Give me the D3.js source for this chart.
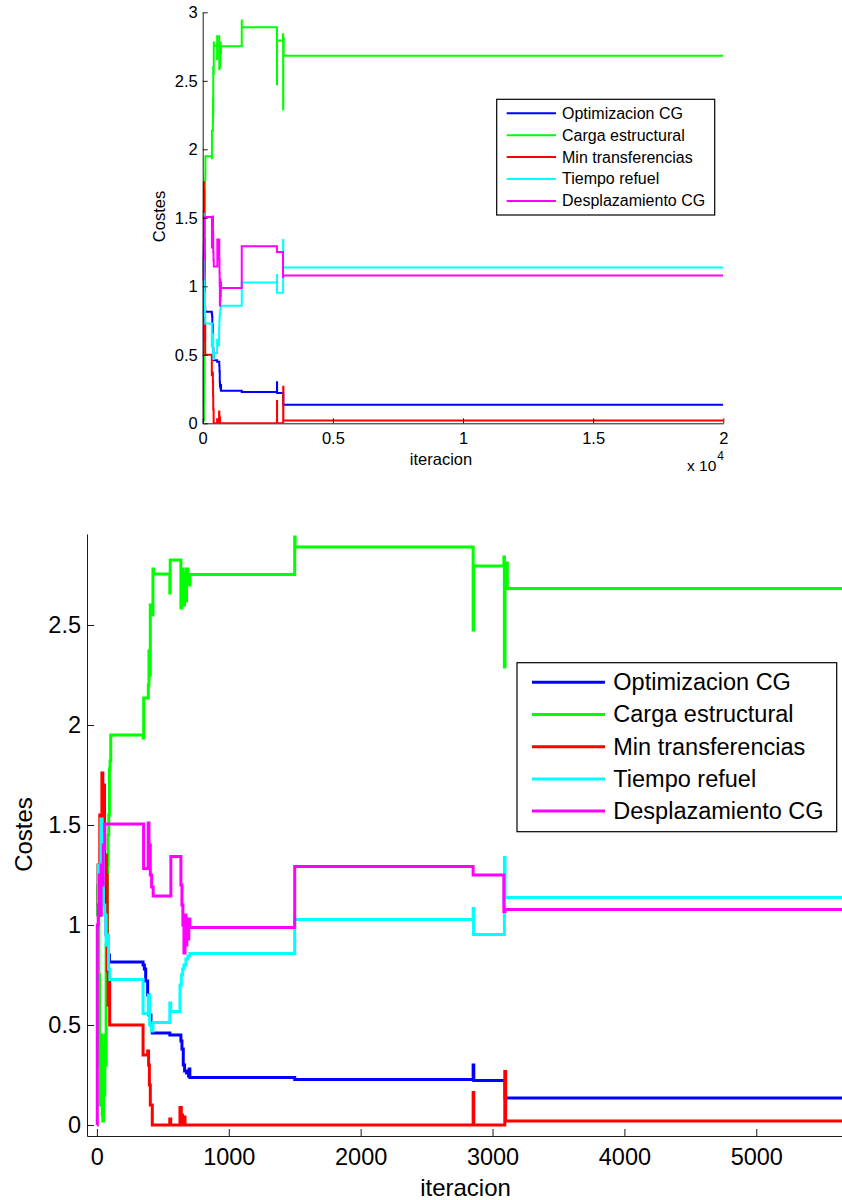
<!DOCTYPE html>
<html>
<head>
<meta charset="utf-8">
<script src="https://cdn.jsdelivr.net/npm/d3@7"></script>
<style>
  html, body { margin: 0; padding: 0; background: #ffffff; }
  svg { display: block; font-family: "Liberation Sans", Arial, Helvetica, sans-serif; }
</style>
</head>
<body>
<svg id="chart" width="842" height="1200"></svg>
<script>
// Cost of each objective along the optimisation run: [iteration, cost] breakpoints,
// each value held until the next breakpoint (stairs).
const optimizacionCG = [
  [0, 1.1], [10, 1.2], [20, 1.05], [30, 1.24], [40, 1.15], [50, 1.22], [60, 1.1],
  [70, 0.95], [80, 0.85], [95, 0.815], [350, 0.8], [360, 0.78], [370, 0.72], [385, 0.65],
  [395, 0.55], [410, 0.5], [420, 0.46], [553, 0.45], [637, 0.42], [645, 0.38], [655, 0.3],
  [665, 0.27], [680, 0.26], [695, 0.245], [700, 0.28], [705, 0.238], [1500, 0.228],
  [2853, 0.3], [2858, 0.222], [3095, 0.135], [20000, 0.135]
];
const cargaEstructural = [
  [0, 1.2], [5, 1.05], [10, 1.15], [15, 0.75], [20, 0.3], [25, 0.1], [30, 0.45], [35, 0.2],
  [40, 0.05], [45, 0.02], [50, 0.4], [55, 0.15], [60, 0.45], [65, 0.3], [70, 0.9], [75, 0.6],
  [80, 1.3], [85, 1.45], [90, 1.55], [95, 1.78], [100, 1.82], [105, 1.95], [350, 1.935],
  [355, 2.135], [390, 2.2], [395, 2.37], [400, 2.25], [405, 2.6], [415, 2.55], [425, 2.78],
  [430, 2.755], [553, 2.66], [556, 2.825], [637, 2.585], [645, 2.78], [655, 2.6], [665, 2.76],
  [672, 2.62], [680, 2.78], [690, 2.7], [705, 2.753], [1500, 2.94], [1503, 2.89],
  [2853, 2.475], [2856, 2.795], [3086, 2.84], [3090, 2.29], [3095, 2.81], [3112, 2.683],
  [20000, 2.683]
];
const minTransferencias = [
  [0, 1.1], [8, 1.3], [15, 1.05], [22, 1.55], [30, 1.35], [38, 1.76], [45, 1.5], [52, 1.7],
  [58, 1.2], [65, 1.35], [72, 1.25], [78, 0.77], [85, 0.6], [90, 0.72], [97, 0.5],
  [350, 0.35], [385, 0.37], [392, 0.3], [398, 0.2], [405, 0.1], [420, 0.0], [553, 0.03],
  [560, 0.0], [630, 0.087], [640, 0.05], [650, 0.0], [660, 0.04], [668, 0.0],
  [2853, 0.163], [2858, 0.0], [3093, 0.267], [3100, 0.02], [20000, 0.02]
];
const tiempoRefuel = [
  [0, 1.1], [10, 1.3], [20, 1.15], [30, 1.53], [40, 1.45], [50, 1.1], [60, 1.05], [70, 0.9],
  [80, 0.95], [88, 0.78], [98, 0.728], [350, 0.558], [390, 0.65], [400, 0.5], [415, 0.47],
  [425, 0.513], [553, 0.61], [560, 0.567], [630, 0.7], [640, 0.75], [650, 0.78], [660, 0.8],
  [675, 0.83], [690, 0.845], [705, 0.858], [1500, 1.028], [2853, 1.083], [2856, 0.953],
  [3090, 1.338], [3095, 1.138], [20000, 1.138]
];
const desplazamientoCG = [
  [0, 0], [3, 1.0], [10, 1.1], [18, 1.25], [25, 1.05], [32, 1.3], [40, 1.2], [48, 1.4],
  [55, 1.38], [60, 1.505], [354, 1.283], [389, 1.51], [395, 1.35], [400, 1.4], [405, 1.25],
  [415, 1.19], [427, 1.145], [561, 1.342], [637, 1.2], [645, 1.1], [652, 1.0], [660, 0.86],
  [668, 1.05], [675, 0.9], [682, 1.0], [690, 0.93], [697, 1.03], [705, 0.988],
  [1500, 1.292], [2853, 1.25], [3086, 1.067], [3095, 1.078], [20000, 1.078]
];

const seriesNames = ["Optimizacion CG", "Carga estructural", "Min transferencias", "Tiempo refuel", "Desplazamiento CG"];
const seriesValues = [optimizacionCG, cargaEstructural, minTransferencias, tiempoRefuel, desplazamientoCG];
const seriesColors = ["#0000ff", "#00ff00", "#ff0000", "#00ffff", "#ff00ff"];

// Tick values for the two views
const overviewXTicks = [0, 5000, 10000, 15000, 20000];
const overviewXTickLabels = ["0", "0.5", "1", "1.5", "2"];
const overviewYTicks = [0, 0.5, 1, 1.5, 2, 2.5, 3];
const detailXTicks = [0, 1000, 2000, 3000, 4000, 5000];
const detailYTicks = [0, 0.5, 1, 1.5, 2, 2.5];

const yAxisTitle = "Costes";
const xAxisTitle = "iteracion";

const svg = d3.select("#chart");
const FONT = '"Liberation Sans", Arial, Helvetica, sans-serif';
const AXIS_COLOR = "#1a1a1a";

function drawPanel(cfg, id) {
  const xs = d3.scaleLinear().domain(cfg.xDomain).range([cfg.left, cfg.right]);
  const ys = d3.scaleLinear().domain(cfg.yDomain).range([cfg.bottom, cfg.top]);
  const g = svg.append("g");

  g.append("clipPath").attr("id", "clip-" + id)
    .append("rect")
    .attr("x", cfg.left).attr("y", cfg.top - 2)
    .attr("width", cfg.right - cfg.left).attr("height", cfg.bottom - cfg.top + 2);

  const line = d3.line()
    .x(d => xs(d[0]))
    .y(d => ys(d[1]))
    .curve(d3.curveStepAfter);

  const lines = g.append("g").attr("clip-path", `url(#clip-${id})`);
  seriesValues.forEach((vals, i) => {
    lines.append("path")
      .datum(vals)
      .attr("d", line)
      .attr("fill", "none")
      .attr("stroke", seriesColors[i])
      .attr("stroke-width", cfg.lineWidth);
  });

  // x axis (ticks point into the plot)
  const xAxis = d3.axisBottom(xs)
    .tickValues(cfg.xTicks)
    .tickSizeInner(-cfg.tickLen)
    .tickSizeOuter(0)
    .tickPadding(cfg.xPad)
    .tickFormat((d, i) => cfg.xTickLabels ? cfg.xTickLabels[i] : d3.format("d")(d));
  const gx = g.append("g").attr("transform", `translate(0,${cfg.bottom})`).call(xAxis);

  // y axis
  const yAxis = d3.axisLeft(ys)
    .tickValues(cfg.yTicks)
    .tickSizeInner(-cfg.tickLen)
    .tickSizeOuter(0)
    .tickPadding(cfg.yPad)
    .tickFormat(d => d3.format("")(d));
  const gy = g.append("g").attr("transform", `translate(${cfg.left},0)`).call(yAxis);

  [gx, gy].forEach(a => {
    a.attr("font-family", FONT).attr("font-size", cfg.tickFont);
    a.select(".domain").attr("stroke", AXIS_COLOR).attr("stroke-width", 1);
    a.selectAll(".tick line").attr("stroke", AXIS_COLOR).attr("stroke-width", 1);
    a.selectAll(".tick text").attr("fill", "#000");
  });

  // axis titles
  g.append("text")
    .attr("x", cfg.xLabel[0]).attr("y", cfg.xLabel[1])
    .attr("text-anchor", "middle").attr("dominant-baseline", "central")
    .attr("font-size", cfg.labelFont).attr("fill", "#000")
    .text(xAxisTitle);
  g.append("text")
    .attr("transform", `translate(${cfg.yLabel[0]},${cfg.yLabel[1]}) rotate(-90)`)
    .attr("text-anchor", "middle").attr("dominant-baseline", "central")
    .attr("font-size", cfg.labelFont).attr("fill", "#000")
    .text(yAxisTitle);

  // legend
  const L = cfg.legend;
  const lg = g.append("g").attr("transform", `translate(${L.x},${L.y})`);
  lg.append("rect")
    .attr("x", 0).attr("y", 0).attr("width", L.w).attr("height", L.h)
    .attr("fill", "#fff").attr("stroke", "#000").attr("stroke-width", 1.2);
  seriesNames.forEach((name, i) => {
    const ry = L.row0 + i * L.rowStep;
    lg.append("line")
      .attr("x1", L.line0).attr("x2", L.line1).attr("y1", ry).attr("y2", ry)
      .attr("stroke", seriesColors[i]).attr("stroke-width", cfg.lineWidth);
    lg.append("text")
      .attr("x", L.textX).attr("y", ry)
      .attr("dominant-baseline", "central")
      .attr("font-size", L.font).attr("fill", "#000")
      .text(name);
  });
  return g;
}

// Full run, x in units of 10^4 iterations
const overviewPanel = drawPanel({
  left: 202.7, right: 723.3, top: 12.3, bottom: 423.3,
  xDomain: [0, 20000], yDomain: [0, 3],
  xTicks: overviewXTicks, xTickLabels: overviewXTickLabels, yTicks: overviewYTicks,
  tickFont: 16.5, tickLen: 5, lineWidth: 2, xPad: 9, yPad: 5,
  labelFont: 16.5, xLabel: [441, 459], yLabel: [159, 216.5],
  legend: { x: 496.7, y: 99.3, w: 218, h: 115.7, row0: 14, rowStep: 21.9,
            line0: 10, line1: 59.3, textX: 65.3, font: 16 }
}, "overview");

// multiplier note under the overview x axis
const mult = overviewPanel.append("text")
  .attr("x", 687).attr("y", 471)
  .attr("font-size", 15.5).attr("fill", "#000");
mult.append("tspan").text("x 10");
mult.append("tspan").attr("dx", 1).attr("dy", -11).attr("font-size", 12).text("4");

// Zoom on the first iterations
drawPanel({
  left: 87, right: 842, top: 534, bottom: 1136,
  xDomain: [-75, 5650], yDomain: [-0.055, 2.955],
  xTicks: detailXTicks, xTickLabels: null, yTicks: detailYTicks,
  tickFont: 23.5, tickLen: 7, lineWidth: 3, xPad: 12, yPad: 6,
  labelFont: 24, xLabel: [465.5, 1187], yLabel: [23, 834.5],
  legend: { x: 517, y: 662.7, w: 319.7, h: 169, row0: 19.6, rowStep: 32.2,
            line0: 15, line1: 88, textX: 96.3, font: 23.5 }
}, "detail");
</script>
</body>
</html>
